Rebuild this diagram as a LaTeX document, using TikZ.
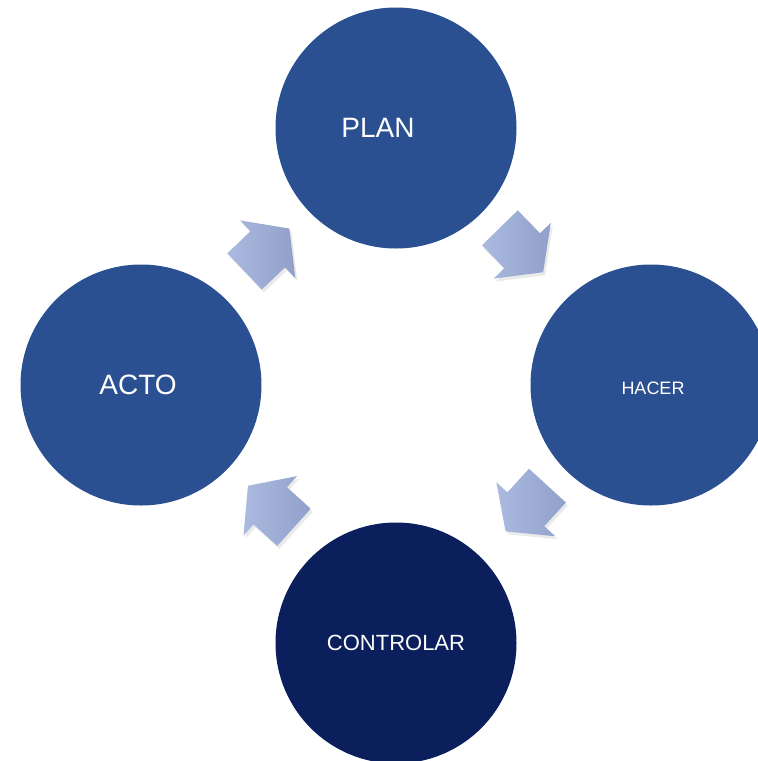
\documentclass[tikz,border=0pt]{standalone}
\usepackage{fontspec}
\setmainfont{Liberation Sans}
\usetikzlibrary{calc}
\definecolor{cblue}{RGB}{42,80,145}
\definecolor{cdark}{RGB}{11,31,92}
\definecolor{alight}{RGB}{172,186,224}
\definecolor{adark}{RGB}{144,160,202}
\tikzset{
  circ/.style={circle, minimum size=241pt, inner sep=0pt, draw=none},
  lbl/.style={text=white, inner sep=0pt, anchor=center},
  ashadow/.style={fill=black!40, opacity=0.2},
  ablock/.style={left color=alight, right color=adark, draw=none}
}
% block arrow: #1 = centre, #2 = direction angle (screen, clockwise)
\newcommand\blkarrow[2]{%
  \path[ashadow] ($(#1)+(2,3)+(#2+180:31)+(#2-90:25)$)
    -- ($(#1)+(2,3)+(#2:1)+(#2-90:25)$)
    -- ($(#1)+(2,3)+(#2:1)+(#2-90:40)$)
    -- ($(#1)+(2,3)+(#2:31)$)
    -- ($(#1)+(2,3)+(#2:1)+(#2+90:40)$)
    -- ($(#1)+(2,3)+(#2:1)+(#2+90:25)$)
    -- ($(#1)+(2,3)+(#2+180:31)+(#2+90:25)$) -- cycle;
  \path[ablock] ($(#1)+(#2+180:31)+(#2-90:25)$)
    -- ($(#1)+(#2:1)+(#2-90:25)$)
    -- ($(#1)+(#2:1)+(#2-90:40)$)
    -- ($(#1)+(#2:31)$)
    -- ($(#1)+(#2:1)+(#2+90:40)$)
    -- ($(#1)+(#2:1)+(#2+90:25)$)
    -- ($(#1)+(#2+180:31)+(#2+90:25)$) -- cycle;
}
\begin{document}
\begin{tikzpicture}[x=1pt,y=-1pt]
\useasboundingbox (0,0) rectangle (758,761);
\clip (0,0) rectangle (758,761);
\fill[white] (0,0) rectangle (758,761);

% circles
\node[circ, fill=cblue] (plan)  at (396,128) {};
\node[circ, fill=cblue] (hacer) at (651,385) {};
\node[circ, fill=cblue] (acto)  at (141,385) {};
\node[circ, fill=cdark] (ctrl)  at (396,643) {};

% labels
\node[lbl, font=\fontsize{28}{30}\selectfont] (tplan)  at ($(plan)+(-18,0)$) {PLAN};
\node[lbl, font=\fontsize{18}{20}\selectfont] (thacer) at ($(hacer)+(2,3)$) {HACER};
\node[lbl, font=\fontsize{28}{30}\selectfont] (tacto)  at ($(acto)+(-3,0)$) {ACTO};
\node[lbl, font=\fontsize{22}{24}\selectfont] (tctrl)  at ($(ctrl)+(0,0)$) {CONTROLAR};

% arrow centres
\coordinate (a1) at ($(plan)!0.5!(hacer)+(-2,-6.5)$);
\coordinate (a2) at ($(acto)!0.5!(plan)+(-1.5,-6.5)$);
\coordinate (a3) at ($(hacer)!0.5!(ctrl)+(3,-5.5)$);
\coordinate (a4) at ($(ctrl)!0.5!(acto)+(2.5,-7.5)$);

\blkarrow{a1}{45.7}
\blkarrow{a2}{-43.7}
\blkarrow{a3}{132.5}
\blkarrow{a4}{-138}
\end{tikzpicture}
\end{document}
